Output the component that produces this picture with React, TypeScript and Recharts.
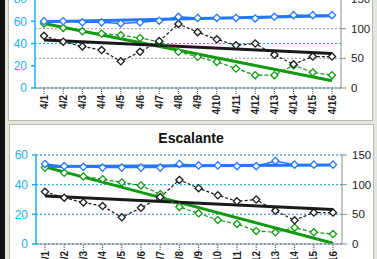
import React from 'react';
import { LineChart, Line, XAxis, YAxis, CartesianGrid } from 'recharts';

const dates = ['4/1', '4/2', '4/3', '4/4', '4/5', '4/6', '4/7', '4/8', '4/9', '4/10', '4/11', '4/12', '4/13', '4/14', '4/15', '4/16'];

// right-axis series, same in both panels
const blackValues = [88, 78, 70, 64, 45, 61, 79, 108, 94, 82, 72, 75, 56, 40, 53, 53];
const blackTrend = [81, 58];

// upper panel (left axis 0-80)
const topBlue = [60, 60, 59, 59, 58, 59, 60.5, 64, 63, 63, 63, 62.5, 64, 65.5, 65.5, 65.5];
const topBlueTrend = [59.5, 65];
const topGreen = [58, 54, 51, 49, 47.5, 45, 41.5, 32.5, 28, 23.5, 17.5, 11.5, 11.5, 20.5, 14, 11.5];
const topGreenTrend = [58, 6.5];

// Escalante panel (left axis 0-60)
const botBlue = [54, 52.5, 52, 51.5, 51.5, 51.5, 51.5, 54, 53, 53, 52.5, 52.5, 56, 53.5, 53.5, 53.5];
const botBlueTrend = [52.2, 53.3];
const botGreen = [51.5, 48, 45.5, 43.7, 41.5, 39.5, 33.6, 25, 20.7, 16.2, 13.5, 8.8, 7.9, 11, 7.9, 6.7];
const botGreenTrend = [52, 0.5];

const rightTicks = [0, 50, 100, 150];

const AXIS_BLUE = '#1cb0ee';
const LINE_BLUE = '#2477ff';
const GREEN = '#139a13';
const BLACK = '#1a1a1a';

const ends = (pair: number[]) => dates.map((_, i) => (i === 0 ? pair[0] : i === dates.length - 1 ? pair[1] : null));

const buildRows = (blue: number[], blueTrend: number[], green: number[], greenTrend: number[]) => {
  const bt = ends(blueTrend);
  const gt = ends(greenTrend);
  const kt = ends(blackTrend);
  return dates.map((d, i) => ({
    date: d,
    blue: blue[i],
    blueTrend: bt[i],
    green: green[i],
    greenTrend: gt[i],
    black: blackValues[i],
    blackTrend: kt[i],
  }));
};

const diamond = (color: string) => (props: any) => {
  const { cx, cy, index } = props;
  if (cx == null || cy == null) return <g key={index} />;
  const r = 3.6;
  return (
    <path
      key={index}
      d={`M${cx},${cy - r}L${cx + r},${cy}L${cx},${cy + r}L${cx - r},${cy}Z`}
      fill="#fff"
      stroke={color}
      strokeWidth={1.3}
    />
  );
};

const DateTick = (props: any) => {
  const { x, y, payload } = props;
  return (
    <text
      x={x}
      y={y}
      transform={`rotate(-90, ${x}, ${y})`}
      textAnchor="end"
      dominantBaseline="central"
      fontSize={10}
      fontWeight="bold"
      fontFamily="Liberation Sans, Arial, sans-serif"
      fill="#222"
    >
      {payload.value}
    </text>
  );
};

interface PanelProps {
  rows: any[];
  leftMax: number;
  leftTicks: number[];
  width: number;
  height: number;
  top: number;
}

const Panel = ({ rows, leftMax, leftTicks, width, height, top }: PanelProps) => {
  return (
    <LineChart width={width} height={height} data={rows} margin={{ top, right: 0, left: 0, bottom: 0 }}>
      <CartesianGrid yAxisId="right" vertical={false} stroke="#9a9a9a" strokeDasharray="2 2" />
      <CartesianGrid yAxisId="left" vertical={false} stroke={AXIS_BLUE} strokeDasharray="2 2" />
      <XAxis
        dataKey="date"
        height={32}
        padding={{ left: 9, right: 9 }}
        interval={0}
        stroke="#8c8c8c"
        tickSize={6}
        tickMargin={1}
        tickLine={{ stroke: '#444', strokeDasharray: '1 1' }}
        tick={<DateTick />}
      />
      <YAxis
        yAxisId="left"
        width={27}
        domain={[0, leftMax]}
        ticks={leftTicks}
        allowDataOverflow
        stroke={AXIS_BLUE}
        strokeWidth={1.5}
        tickSize={4}
        tickMargin={4}
        tick={{ fill: AXIS_BLUE, fontSize: 12, fontFamily: 'Liberation Sans, Arial, sans-serif' }}
      />
      <YAxis
        yAxisId="right"
        orientation="right"
        width={31}
        domain={[0, 150]}
        ticks={rightTicks}
        allowDataOverflow
        stroke="#8c8c8c"
        tickSize={5}
        tickMargin={5}
        tick={{ fill: '#222', fontSize: 11.5, fontFamily: 'Liberation Sans, Arial, sans-serif' }}
      />
      <Line yAxisId="left" dataKey="greenTrend" stroke={GREEN} strokeWidth={3} dot={false} connectNulls isAnimationActive={false} />
      <Line yAxisId="right" dataKey="blackTrend" stroke={BLACK} strokeWidth={3} dot={false} connectNulls isAnimationActive={false} />
      <Line yAxisId="left" dataKey="blueTrend" stroke={LINE_BLUE} strokeWidth={3} dot={false} connectNulls isAnimationActive={false} />
      <Line yAxisId="left" dataKey="green" stroke={GREEN} strokeWidth={1.2} strokeDasharray="4 2" dot={diamond(GREEN)} isAnimationActive={false} />
      <Line yAxisId="right" dataKey="black" stroke={BLACK} strokeWidth={1.2} strokeDasharray="3 2" dot={diamond(BLACK)} isAnimationActive={false} />
      <Line yAxisId="left" dataKey="blue" stroke={LINE_BLUE} strokeWidth={1.5} dot={diamond(LINE_BLUE)} isAnimationActive={false} />
    </LineChart>
  );
};

const App = () => {
  const topRows = buildRows(topBlue, topBlueTrend, topGreen, topGreenTrend);
  const botRows = buildRows(botBlue, botBlueTrend, botGreen, botGreenTrend);
  return (
    <div
      style={{
        position: 'fixed',
        left: 0,
        top: 0,
        width: 377,
        height: 259,
        overflow: 'hidden',
        background: '#e3e6dc',
      }}
    >
      <div style={{ position: 'absolute', left: 0, top: 0, width: 5, height: 259, background: '#111' }} />
      <div
        style={{
          position: 'absolute',
          left: 8,
          top: -20,
          width: 365,
          height: 141,
          background: '#fff',
          border: '1px solid #b8bcae',
          boxSizing: 'border-box',
        }}
      />
      <div
        style={{
          position: 'absolute',
          left: 9,
          top: 124,
          width: 365,
          height: 200,
          background: '#fff',
          border: '1px solid #b8bcae',
          boxSizing: 'border-box',
        }}
      />
      <div style={{ position: 'absolute', left: 8, top: -15 }}>
        <Panel rows={topRows} leftMax={80} leftTicks={[0, 20, 40, 60, 80]} width={364} height={135} top={14} />
      </div>
      <div
        style={{
          position: 'absolute',
          left: 9,
          top: 128,
          width: 364,
          height: 20,
          lineHeight: '20px',
          textAlign: 'center',
          fontFamily: 'Liberation Sans, Arial, sans-serif',
          fontWeight: 'bold',
          fontSize: 14,
          color: '#111',
        }}
      >
        Escalante
      </div>
      <div style={{ position: 'absolute', left: 9, top: 124 }}>
        <Panel rows={botRows} leftMax={60} leftTicks={[0, 20, 40, 60]} width={364} height={152} top={31} />
      </div>
    </div>
  );
};

export default App;
